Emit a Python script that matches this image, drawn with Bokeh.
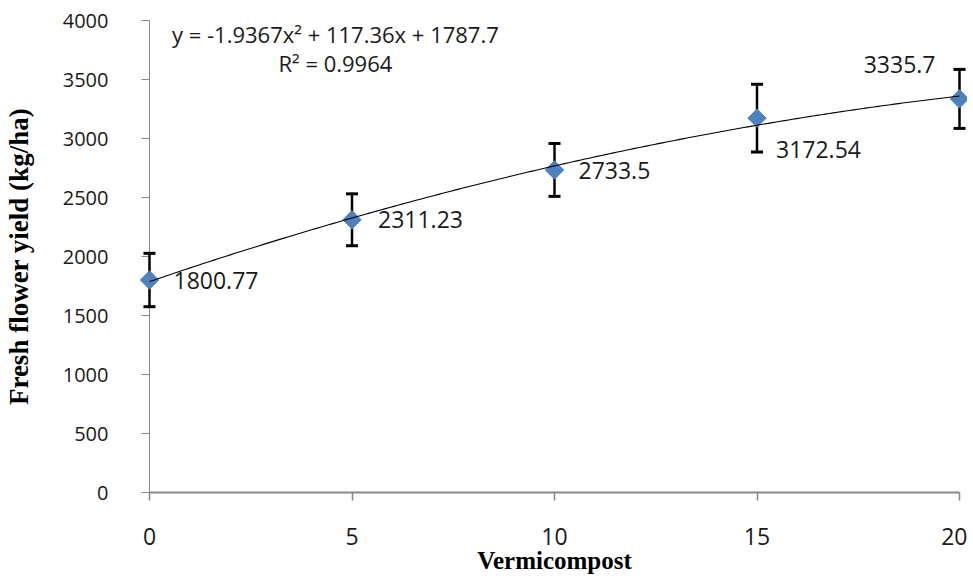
import numpy as np
from bokeh.plotting import figure
from bokeh.models import ColumnDataSource, Range1d, FixedTicker, Label
from bokeh.core.properties import value
from bokeh.embed import file_html
from bokeh.resources import INLINE

# ---- data ----
vermicompost = [0, 5, 10, 15, 20]
yield_kg_ha = [1800.77, 2311.23, 2733.5, 3172.54, 3335.7]
yield_err = [226, 220, 224, 287, 250]
point_labels = ["1800.77", "2311.23", "2733.5", "3172.54", "3335.7"]
x_ticks = [0, 5, 10, 15, 20]
y_ticks = [0, 500, 1000, 1500, 2000, 2500, 3000, 3500, 4000]
equation_text = "y = -1.9367x\u00b2 + 117.36x + 1787.7"
r2_text = "R\u00b2 = 0.9964"

# label placement (screen pixels, relative to each point)
lab_dx = [24, 26, 24, 19, -24]
lab_dy = [0, 0, 1, 31, -34]
lab_align = ["left", "left", "left", "left", "right"]

FONT = "Open Sans"
AXIS_COLOR = "#898989"
TEXT_COLOR = "#1a1a1a"

p = figure(frame_width=810, frame_height=472,
           x_range=Range1d(0, 20), y_range=Range1d(0, 4000),
           output_backend="svg", toolbar_location=None,
           min_border_left=148, min_border_right=8, min_border_top=20, min_border_bottom=5)
p.outline_line_color = None
p.xgrid.grid_line_color = None
p.ygrid.grid_line_color = None
p.background_fill_color = "white"
p.border_fill_color = "white"

# axes
p.xaxis.ticker = FixedTicker(ticks=x_ticks)
p.yaxis.ticker = FixedTicker(ticks=y_ticks)
for ax in (p.xaxis[0], p.yaxis[0]):
    ax.axis_line_color = AXIS_COLOR
    ax.major_tick_line_color = AXIS_COLOR
    ax.major_tick_out = 8
    ax.major_tick_in = 0
    ax.minor_tick_line_color = None
    ax.major_label_text_font = FONT
    ax.major_label_text_color = TEXT_COLOR
    ax.axis_label_text_font = "Liberation Serif"
    ax.axis_label_text_font_style = "bold"
    ax.axis_label_text_color = "black"
p.xaxis.axis_line_width = 2
p.xaxis.major_tick_line_width = 1.5
p.yaxis.axis_line_width = 1
p.xaxis.major_label_text_font_size = "23px"
p.yaxis.major_label_text_font_size = "20px"
p.xaxis.major_label_standoff = 27
p.yaxis.major_label_standoff = 33
p.xaxis.axis_label = "Vermicompost"
p.yaxis.axis_label = "Fresh flower yield (kg/ha)"
p.xaxis.axis_label_text_font_size = "25px"
p.yaxis.axis_label_text_font_size = "27px"
p.xaxis.axis_label_standoff = -1
p.yaxis.axis_label_standoff = 26

src = ColumnDataSource(data=dict(
    x=vermicompost, y=yield_kg_ha,
    upper=[v + e for v, e in zip(yield_kg_ha, yield_err)],
    lower=[v - e for v, e in zip(yield_kg_ha, yield_err)],
    label=point_labels, dx=lab_dx, dy=lab_dy, align=lab_align))

# error bars (stems + caps), drawn unclipped
stems = p.segment("x", "lower", "x", "upper", source=src, line_color="black", line_width=2.5)
stems.level = "overlay"
cap_hi = p.scatter("x", "upper", source=src, marker="dash", size=12, line_width=3,
                   line_color="black")
cap_hi.level = "overlay"
cap_lo = p.scatter("x", "lower", source=src, marker="dash", size=12, line_width=3,
                   line_color="black")
cap_lo.level = "overlay"

# markers
sc = p.scatter("x", "y", source=src, marker="square", angle=np.pi / 4, size=13,
               fill_color="#4F81BD", line_color="#4F81BD")
sc.level = "overlay"

# polynomial trendline (fitted from data)
coef = np.polyfit(np.array(vermicompost, float), np.array(yield_kg_ha, float), 2)
xs = np.linspace(0, 20, 200)
tl = p.line(xs, np.polyval(coef, xs), line_color="black", line_width=1.1)
tl.level = "overlay"

# data labels
tx = p.text("x", "y", text="label", source=src, x_offset="dx", y_offset="dy",
            text_align="align", text_baseline="middle",
            text_font=value(FONT), text_font_size="23px", text_color=TEXT_COLOR)
tx.level = "overlay"

# trendline equation
p.add_layout(Label(x=4.59, y=3884, text=equation_text, text_align="center",
                   text_baseline="middle", text_font=FONT, text_font_size="22px",
                   text_color=TEXT_COLOR))
p.add_layout(Label(x=4.59, y=3636, text=r2_text, text_align="center",
                   text_baseline="middle", text_font=FONT, text_font_size="22px",
                   text_color=TEXT_COLOR))

open("out.html", "w").write(file_html(p, INLINE))
